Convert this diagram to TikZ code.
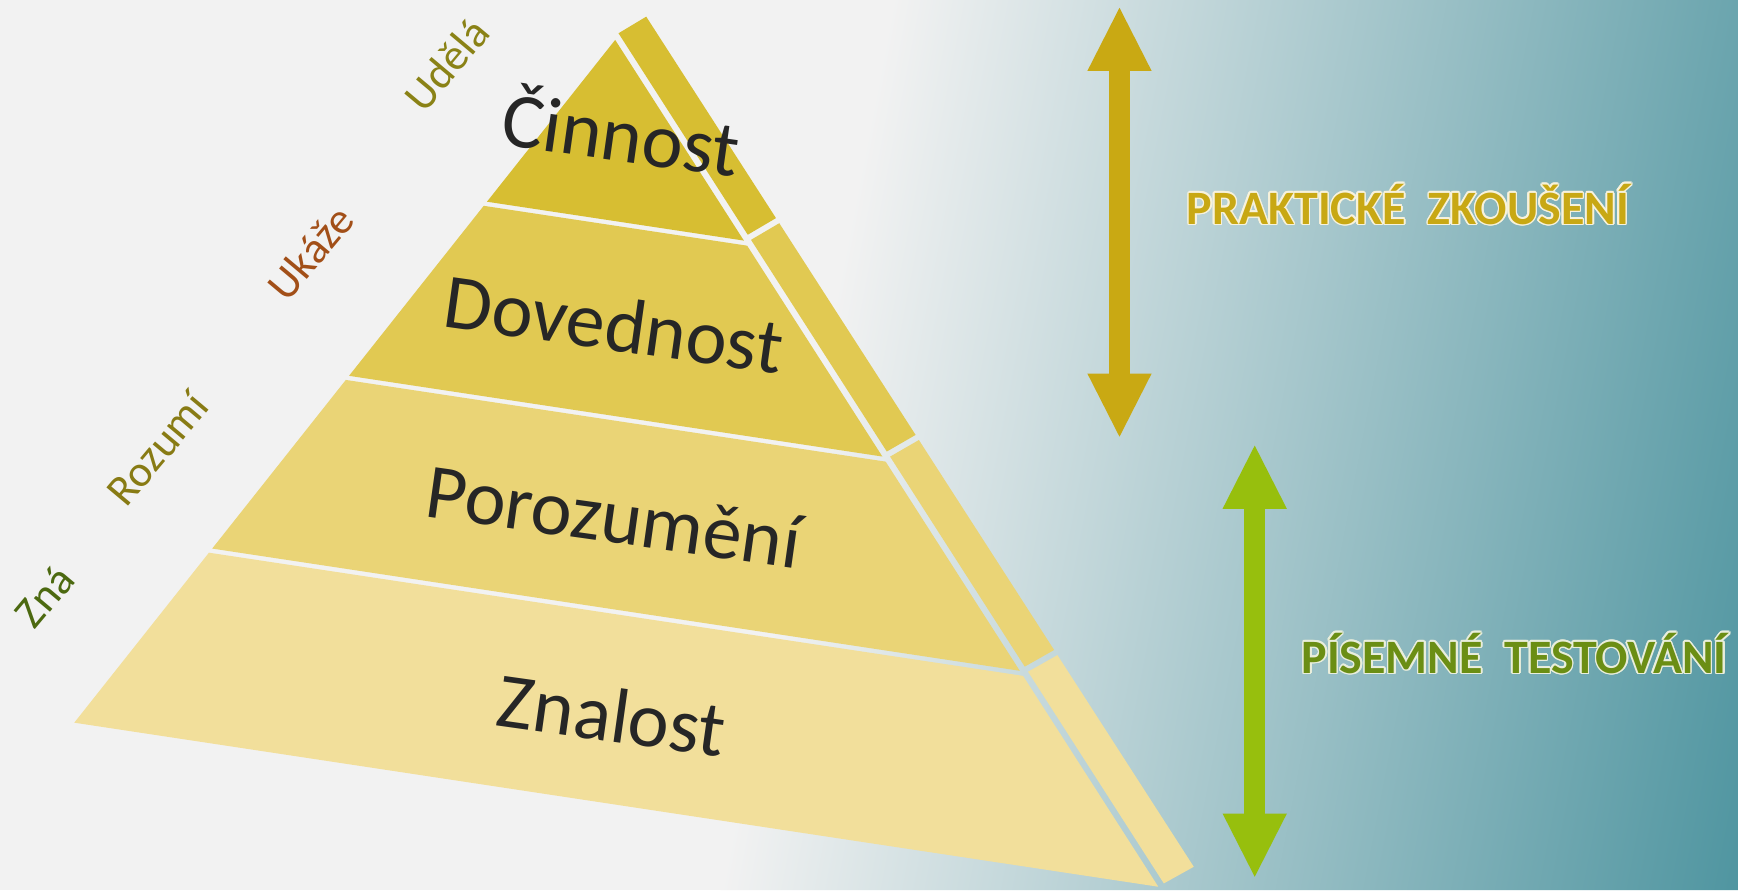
\documentclass[tikz,border=0pt]{standalone}
\usepackage{fontspec}
\setmainfont{Carlito}
\usepackage{xcolor}
\usepackage[copies]{contour}
\contourlength{0.4pt}
\usepackage{tikz}
\usetikzlibrary{calc, arrows.meta}

\definecolor{bggray}{HTML}{F2F2F2}
\definecolor{bgteal}{HTML}{418D99}
\definecolor{cinnostcol}{HTML}{D7BE32}
\definecolor{dovednostcol}{HTML}{E1C952}
\definecolor{porozumenicol}{HTML}{EAD476}
\definecolor{znalostcol}{HTML}{F2DF9B}
\definecolor{textdark}{HTML}{262626}
\definecolor{udelacol}{HTML}{8A8216}
\definecolor{ukazecol}{HTML}{A24F18}
\definecolor{rozumicol}{HTML}{887B14}
\definecolor{znacol}{HTML}{4C6910}
\definecolor{arrowyellow}{HTML}{C9A913}
\definecolor{arrowgreen}{HTML}{97BF0D}
\definecolor{prakcol}{HTML}{C8A814}
\definecolor{pisecol}{HTML}{6B8E14}

\newcommand{\LevelFont}{\fontsize{20pt}{22pt}\selectfont}
\newcommand{\ArrowHead}{Triangle[width = 0.58cm, length = 0.57cm, line width = 0pt]}

\tikzset{
    level/.style = {text = textdark, font = \LevelFont, rotate = -8, inner sep = 0pt},
    verb/.style = {font = \fontsize{11.3pt}{13pt}\selectfont, rotate = 50, inner sep = 0pt},
    testing/.style = {font = \fontsize{12.3pt}{14pt}\selectfont\bfseries, inner sep = 0pt},
    bigarrow/.style = {line width = 5.4pt, {\ArrowHead}-{\ArrowHead}},
}

\begin{document}
\begin{tikzpicture}[x = 0.01cm, y = -0.01cm]
    % draw background
    \useasboundingbox (0, 0) rectangle (1568, 803);
    \fill[bggray] (0, 0) rectangle (1568, 803);
    \begin{scope}[transform canvas = {xslant = 0.193}]
        \shade[left color = bggray, right color = bgteal] (805, 0) rectangle (1805, 803);
    \end{scope}


    % draw pyramid corners
    \coordinate (apex) at (555, 36);
    \coordinate (baseL) at (67, 652);
    \coordinate (baseR) at (1045, 800);

    \coordinate (sideTL) at (558, 30);
    \coordinate (sideTR) at (583, 15);
    \coordinate (sideBL) at (1050, 797);
    \coordinate (sideBR) at (1077, 782);


    % draw front and side bands
    \foreach \a/\b/\col in {0/0.237/cinnostcol, 0.243/0.492/dovednostcol,
                            0.498/0.745/porozumenicol, 0.751/1/znalostcol}
    {
        \fill[\col] ($(apex)!\a!(baseL)$) -- ($(apex)!\b!(baseL)$)
            -- ($(apex)!\b!(baseR)$) -- ($(apex)!\a!(baseR)$) -- cycle;
        \fill[\col] ($(sideTL)!\a!(sideBL)$) -- ($(sideTL)!\b!(sideBL)$)
            -- ($(sideTR)!\b!(sideBR)$) -- ($(sideTR)!\a!(sideBR)$) -- cycle;
    }


    % draw level names
    \node[level] (cinnost) at (561, 117) {Činnost};
    \node[level] (dovednost) at (554, 292) {Dovednost};
    \node[level] (porozumeni) at (554, 466) {Porozumění};
    \node[level] (znalost) at (552, 645) {Znalost};


    % draw verbs along the left edge
    \node[verb, text = udelacol] (udela) at (403, 58) {Udělá};
    \node[verb, text = ukazecol] (ukaze) at (280, 228) {Ukáže};
    \node[verb, text = rozumicol] (rozumi) at (142, 405) {Rozumí};
    \node[verb, text = znacol] (zna) at (40, 538) {Zná};


    % draw practical testing arrow
    \coordinate (praktop) at (1010, 7);
    \coordinate (prakbot) at (1010, 394);
    \draw[bigarrow, arrowyellow] (praktop) -- (prakbot);
    \node[testing, text = prakcol] (prakticke) at (1270, 185)
        {\contour{white!85!prakcol}{PRAKTICKÉ\ \ ZKOUŠENÍ}};


    % draw written testing arrow
    \coordinate (pistop) at (1132, 402);
    \coordinate (pisbot) at (1132, 791);
    \draw[bigarrow, arrowgreen] (pistop) -- (pisbot);
    \node[testing, text = pisecol] (pisemne) at (1366, 590)
        {\contour{white!85!pisecol}{PÍSEMNÉ\ \ TESTOVÁNÍ}};

\end{tikzpicture}
\end{document}
